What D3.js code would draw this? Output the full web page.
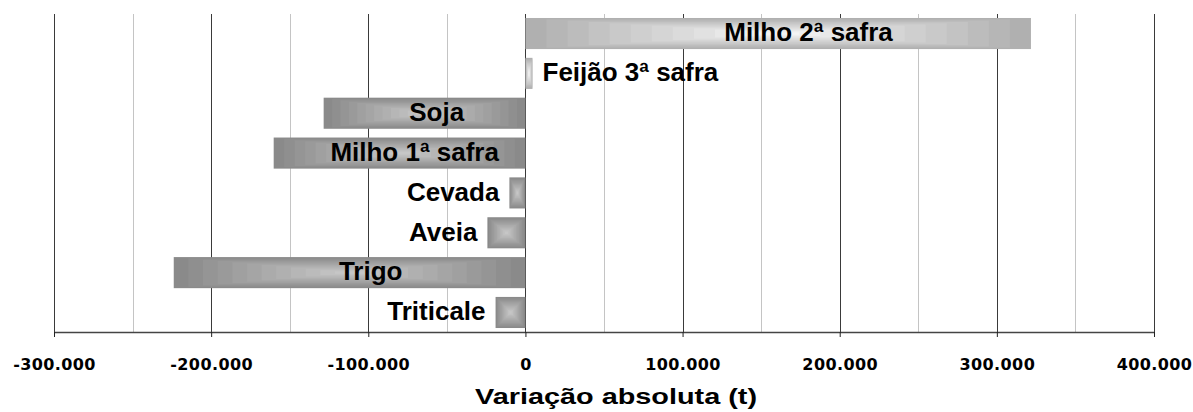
<!DOCTYPE html>
<html>
<head>
<meta charset="utf-8">
<script src="https://cdn.jsdelivr.net/npm/d3@7"></script>
<style>
  body { margin: 0; background: #fff; }
  .canvas { width: 1193px; height: 412px; }
</style>
</head>
<body>
<div class="canvas"></div>
<script>
// categories, top to bottom
const categories = ['Milho 2ª safra', 'Feijão 3ª safra', 'Soja', 'Milho 1ª safra', 'Cevada', 'Aveia', 'Trigo', 'Triticale'];
// absolute variation (t)
const values = [321700, 4500, -128400, -160200, -10200, -24200, -223800, -19000];
// x axis
const tickValues = [-300000, -200000, -100000, 0, 100000, 200000, 300000, 400000];
const minorTicks = [-250000, -150000, -50000, 50000, 150000, 250000, 350000];
const axisTitle = 'Variação absoluta (t)';

const W = 1193, H = 412;
const m = {t: 14, r: 39, b: 80, l: 54};

const rows = categories.map((c, i) => ({cat: c, value: values[i]}));

const svg = d3.select('.canvas').append('svg')
  .attr('width', W)
  .attr('height', H);

const x = d3.scaleLinear()
  .domain([tickValues[0], tickValues[tickValues.length - 1]])
  .range([m.l, W - m.r]);

const y = d3.scaleBand()
  .domain(categories)
  .range([m.t, H - m.b])
  .paddingInner(0.22)
  .paddingOuter(0.1);

const fmt = d3.formatLocale({decimal: ',', thousands: '.', grouping: [3], currency: ['', ''], minus: '-'}).format(',d');

// gridlines
const grid = svg.append('g');
grid.selectAll('.minor')
  .data(minorTicks)
  .enter().append('line')
  .attr('x1', d => Math.round(x(d)) + 0.5)
  .attr('x2', d => Math.round(x(d)) + 0.5)
  .attr('y1', m.t)
  .attr('y2', H - m.b)
  .style('stroke', '#c4c4c4');
grid.selectAll('.major')
  .data(tickValues)
  .enter().append('line')
  .attr('x1', d => Math.round(x(d)) + 0.5)
  .attr('x2', d => Math.round(x(d)) + 0.5)
  .attr('y1', m.t)
  .attr('y2', H - m.b)
  .style('stroke', '#3a3a3a');

// bars: nested rects give the box gradient
const N = 12;
const palette = v => v >= 0 ? ['#b0b0b0', '#f4f4f4'] : ['#8a8a8a', '#c6c6c6'];
const cells = [];
rows.forEach(d => {
  const x0 = Math.min(x(0), x(d.value));
  const w = Math.abs(x(d.value) - x(0));
  const h = y.bandwidth();
  const col = d3.interpolateRgb(palette(d.value)[0], palette(d.value)[1]);
  for (let k = 0; k < N; k++) {
    const t = k / N;
    cells.push({
      x: x0 + t * w / 2,
      y: y(d.cat) + t * h / 2,
      w: w * (1 - t),
      h: h * (1 - t),
      fill: col(k / (N - 1))
    });
  }
});
svg.append('g')
  .selectAll('rect')
  .data(cells)
  .enter().append('rect')
  .attr('x', d => d.x)
  .attr('y', d => d.y)
  .attr('width', d => d.w)
  .attr('height', d => d.h)
  .style('fill', d => d.fill);

// bar labels
svg.append('g')
  .selectAll('text')
  .data(rows)
  .enter().append('text')
  .attr('x', d => {
    const w = Math.abs(x(d.value) - x(0));
    if (w > 150) return (x(d.value) + x(0)) / 2 + 0.06 * w;
    return d.value < 0 ? x(d.value) - 10 : x(d.value) + 10;
  })
  .attr('y', d => y(d.cat) + y.bandwidth() / 2)
  .attr('dy', '0.3em')
  .attr('text-anchor', d => {
    const w = Math.abs(x(d.value) - x(0));
    if (w > 150) return 'middle';
    return d.value < 0 ? 'end' : 'start';
  })
  .style('font-family', '"Liberation Sans", Arial, sans-serif')
  .style('font-weight', 'bold')
  .style('font-size', '26px')
  .style('fill', '#000')
  .text(d => d.cat);

// x axis
const axis = svg.append('g')
  .attr('transform', `translate(0,${H - m.b})`)
  .call(d3.axisBottom(x).tickValues(tickValues).tickSize(5).tickSizeOuter(0).tickFormat(fmt));
axis.select('.domain').style('stroke', '#444').style('stroke-width', 1.5);
axis.selectAll('.tick line').style('stroke', '#222');
axis.selectAll('.tick text')
  .attr('y', 38)
  .attr('dy', 0)
  .style('font-family', '"DejaVu Sans", sans-serif')
  .style('font-weight', 'bold')
  .style('font-size', '16px')
  .style('letter-spacing', '0.4px')
  .style('fill', '#000');

// axis title
svg.append('text')
  .attr('x', 616)
  .attr('y', 404)
  .attr('text-anchor', 'middle')
  .attr('textLength', 282)
  .attr('lengthAdjust', 'spacingAndGlyphs')
  .style('font-family', '"Liberation Sans", Arial, sans-serif')
  .style('font-weight', 'bold')
  .style('font-size', '22px')
  .style('fill', '#000')
  .text(axisTitle);
</script>
</body>
</html>
